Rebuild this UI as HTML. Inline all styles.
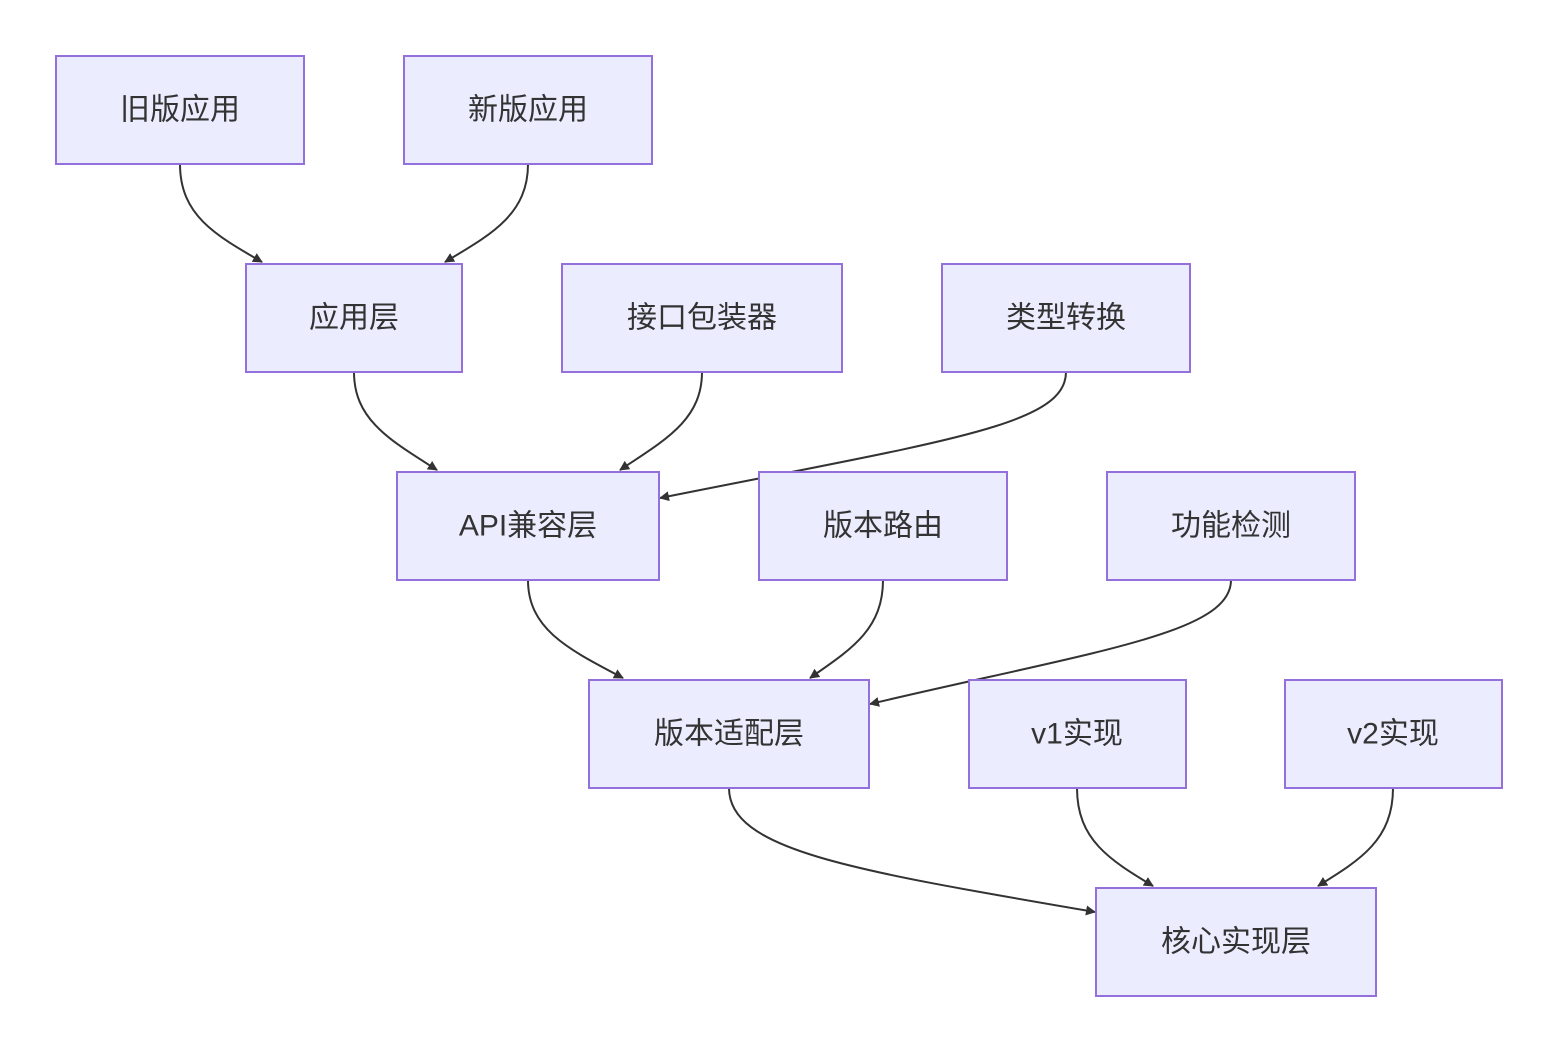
<!DOCTYPE html>
<html><head><meta charset="utf-8"><style>
html,body{margin:0;padding:0;background:#fff;}
svg{display:block;}
text{font-family:"Liberation Sans","Noto Sans CJK SC",sans-serif;font-size:30px;fill:#333;text-anchor:middle;dominant-baseline:central;}
rect{fill:#ECECFF;stroke:#9370DB;stroke-width:2;}
path{fill:none;stroke:#333;stroke-width:2;}
</style></head><body>
<svg width="1558" height="1051" viewBox="0 0 1558 1051" xmlns="http://www.w3.org/2000/svg">
<defs><marker id="a" viewBox="0 0 10 10" refX="9" refY="5" markerWidth="10" markerHeight="10" markerUnits="userSpaceOnUse" orient="auto"><path d="M0,0 L10,5 L0,10 z" style="fill:#333;stroke:none"/></marker></defs>
<g>
<path d="M180,164 C180,215 215,235 262,262" marker-end="url(#a)" style="marker-end:url(#a)"/>
<path d="M528,164 C528,215 490,235 445,262" style="marker-end:url(#a)"/>
<path d="M354,372 C354,420 390,440 437,470" style="marker-end:url(#a)"/>
<path d="M702,372 C702,420 665,440 620,470" style="marker-end:url(#a)"/>
<path d="M1066,372 C1066,425 950,440 660,498" style="marker-end:url(#a)"/>
<path d="M528,580 C528,630 570,650 623,678" style="marker-end:url(#a)"/>
<path d="M883,580 C883,630 850,650 810,678" style="marker-end:url(#a)"/>
<path d="M1231,580 C1231,633 1100,650 870,704" style="marker-end:url(#a)"/>
<path d="M729,788 C729,850 850,870 1095,912" style="marker-end:url(#a)"/>
<path d="M1077,788 C1077,840 1110,860 1153,886" style="marker-end:url(#a)"/>
<path d="M1393,788 C1393,840 1360,860 1318,886" style="marker-end:url(#a)"/>
</g>
<rect x="56" y="56" width="248" height="108"/><text x="180" y="110">旧版应用</text>
<rect x="404" y="56" width="248" height="108"/><text x="528" y="110">新版应用</text>
<rect x="246" y="264" width="216" height="108"/><text x="354" y="318">应用层</text>
<rect x="562" y="264" width="280" height="108"/><text x="702" y="318">接口包装器</text>
<rect x="942" y="264" width="248" height="108"/><text x="1066" y="318">类型转换</text>
<rect x="397" y="472" width="262" height="108"/><text x="528" y="526">API兼容层</text>
<rect x="759" y="472" width="248" height="108"/><text x="883" y="526">版本路由</text>
<rect x="1107" y="472" width="248" height="108"/><text x="1231" y="526">功能检测</text>
<rect x="589" y="680" width="280" height="108"/><text x="729" y="734">版本适配层</text>
<rect x="969" y="680" width="217" height="108"/><text x="1077" y="734">v1实现</text>
<rect x="1285" y="680" width="217" height="108"/><text x="1393" y="734">v2实现</text>
<rect x="1096" y="888" width="280" height="108"/><text x="1236" y="942">核心实现层</text>
</svg>
</body></html>
